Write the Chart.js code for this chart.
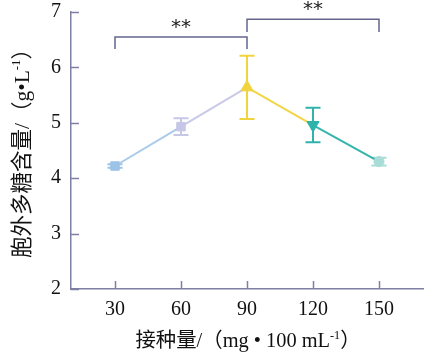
<!DOCTYPE html>
<html>
<head>
<meta charset="utf-8">
<script src="https://cdn.jsdelivr.net/npm/chart.js@4.4.1/dist/chart.umd.min.js"></script>
<style>
  html, body { margin: 0; padding: 0; background: #ffffff; }
  #wrap { width: 426px; height: 357px; position: relative; }
</style>
</head>
<body>
<div id="wrap"><canvas id="c" width="426" height="357"></canvas></div>
<script>
// ---- data ----
const categories = [30, 60, 90, 120, 150];
const means = [4.22, 4.93, 5.64, 4.96, 4.30];
const errors = [0.03, 0.15, 0.57, 0.31, 0.07];
const yTicks = [2, 3, 4, 5, 6, 7];
const xTitle = ['接种量/（mg • 100 mL', '-1', '）'];
const yTitle = ['胞外多糖含量/（g•L', '-1', '）'];
// significance brackets
const sigFrom = [30, 90];
const sigTo = [90, 150];
const sigBar = [6.55, 6.87];
const sigLeg = [6.33, 6.64];
const sigLabel = ['**', '**'];

// ---- styles ----
const pointColors = ['#9dc3e7', '#c6c6e6', '#f1d33e', '#2fb3aa', '#a7dcd7'];
const lineColors = ['#a9cbea', '#c9c9e8', '#f1d546', '#35b5ac'];
const pointStyles = ['rect', 'rect', 'triangle', 'triangle', 'circle'];
const pointRotations = [0, 0, 0, 180, 0];
const pointRadii = [6, 6, 7, 7, 5];
const axisColor = '#7f7fa6';
const bracketColor = '#64648f';
const serif = '"Liberation Serif", "Times New Roman", serif';
const cjk = '"Noto Sans CJK SC", sans-serif';

const annot = {
  id: 'annot',
  beforeDatasetsDraw(chart) {
    const ctx = chart.ctx, xs = chart.scales.x, ys = chart.scales.y;
    ctx.save();
    ctx.lineWidth = 2;
    categories.forEach((c, i) => {
      const px = xs.getPixelForValue(c);
      const top = ys.getPixelForValue(means[i] + errors[i]);
      const bot = ys.getPixelForValue(means[i] - errors[i]);
      ctx.strokeStyle = pointColors[i];
      ctx.beginPath();
      ctx.moveTo(px, top); ctx.lineTo(px, bot);
      ctx.moveTo(px - 7.5, top); ctx.lineTo(px + 7.5, top);
      ctx.moveTo(px - 7.5, bot); ctx.lineTo(px + 7.5, bot);
      ctx.stroke();
    });
    ctx.restore();
  },
  afterDraw(chart) {
    const ctx = chart.ctx, xs = chart.scales.x, ys = chart.scales.y;
    const area = chart.chartArea;
    ctx.save();
    // inward ticks
    ctx.strokeStyle = axisColor;
    ctx.lineWidth = 1.5;
    ctx.beginPath();
    yTicks.forEach(v => {
      const py = Math.round(ys.getPixelForValue(v)) + 0.5;
      ctx.moveTo(area.left, py); ctx.lineTo(area.left + 8, py);
    });
    categories.forEach(v => {
      const px = Math.round(xs.getPixelForValue(v)) + 0.5;
      ctx.moveTo(px, area.bottom); ctx.lineTo(px, area.bottom - 8);
    });
    ctx.stroke();

    // significance brackets
    ctx.strokeStyle = bracketColor;
    ctx.lineWidth = 1.5;
    sigFrom.forEach((f, i) => {
      const x1 = xs.getPixelForValue(f), x2 = xs.getPixelForValue(sigTo[i]);
      const yb = ys.getPixelForValue(sigBar[i]), yl = ys.getPixelForValue(sigLeg[i]);
      ctx.beginPath();
      ctx.moveTo(x1, yl); ctx.lineTo(x1, yb); ctx.lineTo(x2, yb); ctx.lineTo(x2, yl);
      ctx.stroke();
      ctx.fillStyle = '#222';
      ctx.font = '20px "DejaVu Sans", sans-serif';
      ctx.textAlign = 'center';
      ctx.textBaseline = 'middle';
      ctx.fillText(sigLabel[i], (x1 + x2) / 2, yb - 9);
    });

    // titles with superscript, fitted to a target length
    function drawTitle(parts, cx, cy, rot, span) {
      ctx.save();
      ctx.translate(cx, cy);
      ctx.rotate(rot);
      ctx.fillStyle = '#111';
      ctx.textBaseline = 'alphabetic';
      ctx.textAlign = 'left';
      const measure = size => {
        const mf = size + 'px ' + serif + ', ' + cjk;
        const sf = (size * 0.6).toFixed(1) + 'px ' + serif;
        ctx.font = mf; const w0 = ctx.measureText(parts[0]).width;
        ctx.font = sf; const w1 = ctx.measureText(parts[1]).width;
        ctx.font = mf; const w2 = ctx.measureText(parts[2]).width;
        return { mf, sf, w0, w1, w2, total: w0 + w1 + w2 };
      };
      let m = measure(20);
      const size = Math.min(23, 20 * span / m.total);
      m = measure(size.toFixed(1));
      let x = -m.total / 2;
      const base = size * 0.35;
      ctx.font = m.mf; ctx.fillText(parts[0], x, base); x += m.w0;
      ctx.font = m.sf; ctx.fillText(parts[1], x, base - size * 0.4); x += m.w1;
      ctx.font = m.mf; ctx.fillText(parts[2], x, base);
      ctx.restore();
    }
    drawTitle(xTitle, 248, 340, 0, 225);
    drawTitle(yTitle, 21, 148, -Math.PI / 2, 220);
    ctx.restore();
  }
};

new Chart(document.getElementById('c'), {
  type: 'line',
  data: {
    datasets: [{
      data: categories.map((c, i) => ({ x: c, y: means[i] })),
      borderWidth: 2,
      segment: { borderColor: ctx => lineColors[ctx.p0DataIndex] },
      borderColor: lineColors[0],
      pointStyle: pointStyles,
      rotation: pointRotations,
      pointRadius: pointRadii,
      pointBackgroundColor: pointColors,
      pointBorderColor: pointColors,
      pointBorderWidth: 1,
      tension: 0
    }]
  },
  options: {
    responsive: false,
    animation: false,
    devicePixelRatio: 1,
    layout: { autoPadding: false, padding: { top: 12, right: 3, left: 0, bottom: 0 } },
    plugins: { legend: { display: false }, tooltip: { enabled: false } },
    scales: {
      x: {
        type: 'linear', min: 10, max: 170,
        afterBuildTicks: s => { s.ticks = categories.map(v => ({ value: v })); },
        afterFit: s => { s.height = 68; s.paddingLeft = 0; s.paddingRight = 0; },
        grid: { display: false, drawTicks: false },
        border: { color: axisColor, width: 1.5 },
        ticks: { font: { family: serif, size: 20 }, color: '#111', padding: 9, maxRotation: 0, autoSkip: false }
      },
      y: {
        min: 2, max: 7,
        afterBuildTicks: s => { s.ticks = yTicks.map(v => ({ value: v })); },
        afterFit: s => { s.width = 71; s.paddingTop = 0; s.paddingBottom = 0; },
        grid: { display: false, drawTicks: false },
        border: { color: axisColor, width: 1.5 },
        ticks: { font: { family: serif, size: 20 }, color: '#111', padding: 10 }
      }
    }
  },
  plugins: [annot]
});
</script>
</body>
</html>
